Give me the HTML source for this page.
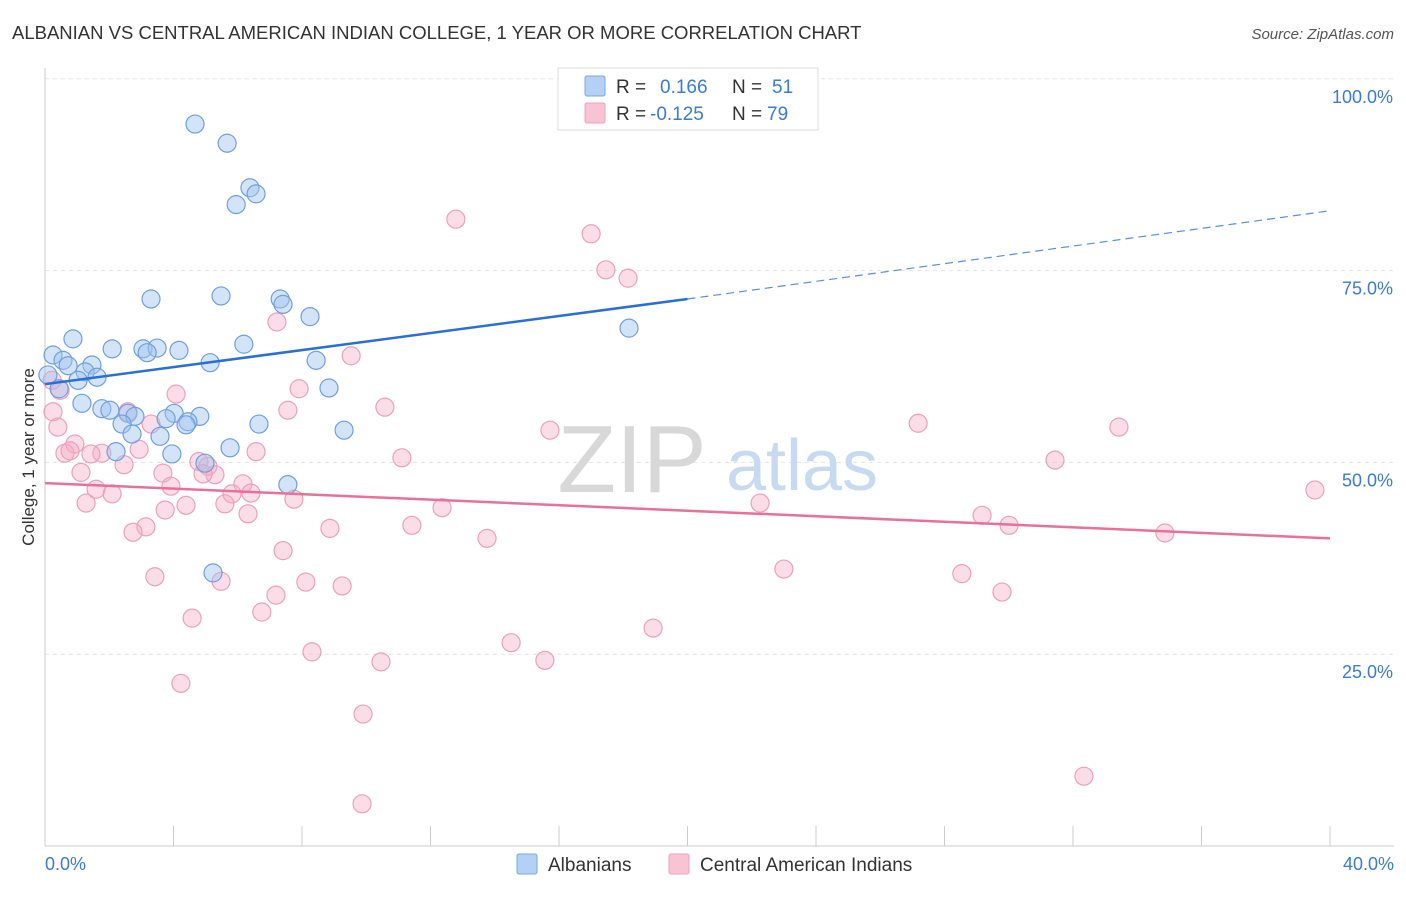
<!DOCTYPE html>
<html><head><meta charset="utf-8"><style>
body{margin:0;background:#fff;font-family:"Liberation Sans",sans-serif;}
svg text{font-family:"Liberation Sans",sans-serif;}
</style></head><body>
<svg id="chart" width="1406" height="892">
<text x="12" y="39" font-size="18.5" fill="#333">ALBANIAN VS CENTRAL AMERICAN INDIAN COLLEGE, 1 YEAR OR MORE CORRELATION CHART</text>
<text x="1394" y="39" font-size="15" fill="#555" font-style="italic" text-anchor="end">Source: ZipAtlas.com</text>
<g id="grid"></g>
<text x="632" y="492" font-size="96" fill="#d8d8d8" font-family="Liberation Serif" text-anchor="middle">ZIP</text>
<text x="802" y="490" font-size="72" fill="#c8daf2" text-anchor="middle">atlas</text>
<g id="marks"></g>
<text transform="translate(34,457) rotate(-90)" font-size="17" fill="#333" text-anchor="middle">College, 1 year or more</text>
<text x="45" y="870" font-size="18" fill="#3a7bd5">0.0%</text>
<text x="1394" y="870" font-size="18" fill="#3a7bd5" text-anchor="end">40.0%</text>
<g>
<rect x="558" y="68" width="260" height="62" fill="#fff" stroke="#ddd"/>
<rect x="585" y="76" width="20" height="20" fill="#b4d0f4" stroke="#7aa8e4" rx="2"/>
<rect x="585" y="103" width="20" height="20" fill="#f8c4d4" stroke="#eca0bc" rx="2"/>
<text x="616" y="93" font-size="19" fill="#333">R = </text><text x="660" y="93" font-size="19" fill="#3a7bd5">0.166</text>
<text x="732" y="93" font-size="19" fill="#333">N = </text><text x="772" y="93" font-size="19" fill="#3a7bd5">51</text>
<text x="616" y="120" font-size="19" fill="#333">R = </text><text x="650" y="120" font-size="19" fill="#3a7bd5">-0.125</text>
<text x="732" y="120" font-size="19" fill="#333">N = </text><text x="767" y="120" font-size="19" fill="#3a7bd5">79</text>
</g>
<g>
<rect x="517" y="854" width="20" height="20" fill="#b4d0f4" stroke="#7aa8e4" rx="2"/>
<text x="548" y="871" font-size="19" fill="#333">Albanians</text>
<rect x="669" y="854" width="20" height="20" fill="#f8c4d4" stroke="#eca0bc" rx="2"/>
<text x="700" y="871" font-size="19" fill="#333">Central American Indians</text>
</g>
</svg>
<script>
const yTicks=[25,50,75,100];
const yTickLabels=["25.0%","50.0%","75.0%","100.0%"];
const xTicks=[4,8,12,16,20,24,28,32,36,40];
const blueX=[4.67,5.67,6.38,6.57,5.95,3.30,5.48,7.32,7.41,8.25,18.18,0.87,6.19,2.09,3.05,3.49,4.17,3.18,0.25,0.56,1.46,5.14,8.44,0.72,1.25,1.62,1.03,8.84,0.44,0.09,1.15,1.77,2.02,2.58,2.80,4.02,4.82,3.77,4.45,2.40,6.66,9.31,2.71,3.58,4.39,5.76,2.21,3.95,4.98,7.56,5.23];
const blueY=[94.1,91.6,85.8,85.0,83.6,71.3,71.7,71.3,70.6,69.0,67.5,66.1,65.4,64.8,64.8,64.9,64.6,64.3,64.0,63.3,62.7,63.0,63.3,62.6,61.8,61.1,60.7,59.7,59.6,61.4,57.7,57.0,56.8,56.4,56.0,56.4,56.0,55.7,55.3,55.0,55.0,54.2,53.7,53.4,54.9,51.9,51.4,51.1,49.9,47.1,35.6];
const pinkX=[12.79,17.0,17.46,18.15,7.22,9.53,0.22,0.47,7.91,4.08,0.25,10.58,7.56,2.58,3.30,0.40,27.18,33.43,15.72,0.93,1.77,2.93,1.43,0.62,0.78,6.57,11.11,31.44,2.46,4.79,5.07,3.67,5.29,1.12,4.92,3.92,6.16,1.59,2.09,5.82,6.41,39.53,7.75,1.28,5.60,4.39,22.26,12.36,3.74,6.32,29.17,30.01,11.42,8.87,3.14,2.74,13.76,34.86,7.41,23.0,3.42,28.54,5.48,8.12,9.25,29.79,7.19,6.75,4.58,18.93,14.51,8.31,15.56,10.46,4.23,9.90,32.34,9.87];
const pinkY=[81.7,79.8,75.1,74.0,68.3,63.9,60.7,59.4,59.6,58.9,56.6,57.2,56.8,56.6,55.0,54.6,55.1,54.6,54.2,52.4,51.2,51.7,51.1,51.2,51.5,51.4,50.6,50.3,49.7,50.1,49.5,48.6,48.4,48.7,48.5,46.9,47.2,46.5,45.9,45.9,46.0,46.4,45.2,44.7,44.6,44.4,44.7,44.1,43.8,43.3,43.1,41.8,41.8,41.4,41.6,40.9,40.1,40.8,38.5,36.1,35.1,35.5,34.5,34.4,33.9,33.1,32.7,30.5,29.7,28.4,26.5,25.3,24.2,24.0,21.2,17.2,9.1,5.5];
const blueTrendX=[0,20,40];
const blueTrendY=[60.2,71.3,82.8];
const pinkTrendX=[0,40];
const pinkTrendY=[47.3,40.1];
const NS="http://www.w3.org/2000/svg";
const sx=v=>45+v*32.125;
const sy=v=>846-v*7.672;
function mk(tag,attrs,parent){const e=document.createElementNS(NS,tag);for(const k in attrs)e.setAttribute(k,attrs[k]);parent.appendChild(e);return e;}
const grid=document.getElementById('grid'), marks=document.getElementById('marks');
yTicks.forEach((t,i)=>{
 const l=mk('line',{x1:45,x2:1394,y1:sy(t),y2:sy(t),stroke:'#e4e4e4','stroke-dasharray':'4,4'},grid);
 
 
 const tx=mk('text',{x:1393,y:sy(t)+24,'font-size':18,fill:'#3a7bd5','text-anchor':'end'},grid);
 tx.textContent=yTickLabels[i];
 
 
});
const xa=mk('line',{x1:45,x2:1394,y1:846,y2:846,stroke:'#ccc'},grid);


const ya=mk('line',{x1:45,x2:45,y1:68,y2:846,stroke:'#ccc'},grid);


xTicks.forEach(t=>{
 const l=mk('line',{x1:sx(t),x2:sx(t),y1:826,y2:846,stroke:'#ccc'},grid);
 
 
});
pinkX.forEach((x,i)=>{
 const c=mk('circle',{cx:sx(x),cy:sy(pinkY[i]),r:9,fill:'rgba(244,170,196,0.4)',stroke:'#eca0bc','stroke-width':1.2},marks);
 
 
});
blueX.forEach((x,i)=>{
 const c=mk('circle',{cx:sx(x),cy:sy(blueY[i]),r:9,fill:'rgba(160,196,240,0.45)',stroke:'#6f9fe0','stroke-width':1.2},marks);
 
 
});
const bs=mk('line',{x1:sx(blueTrendX[0]),y1:sy(blueTrendY[0]),x2:sx(blueTrendX[1]),y2:sy(blueTrendY[1]),stroke:'#2a6fd6','stroke-width':2.5},marks);


const bd=mk('line',{x1:sx(blueTrendX[1]),y1:sy(blueTrendY[1]),x2:sx(blueTrendX[2]),y2:sy(blueTrendY[2]),stroke:'#5b8fdc','stroke-width':1.2,'stroke-dasharray':'8,5'},marks);


const pl=mk('line',{x1:sx(pinkTrendX[0]),y1:sy(pinkTrendY[0]),x2:sx(pinkTrendX[1]),y2:sy(pinkTrendY[1]),stroke:'#e8709a','stroke-width':2.5},marks);


</script>
</body></html>
